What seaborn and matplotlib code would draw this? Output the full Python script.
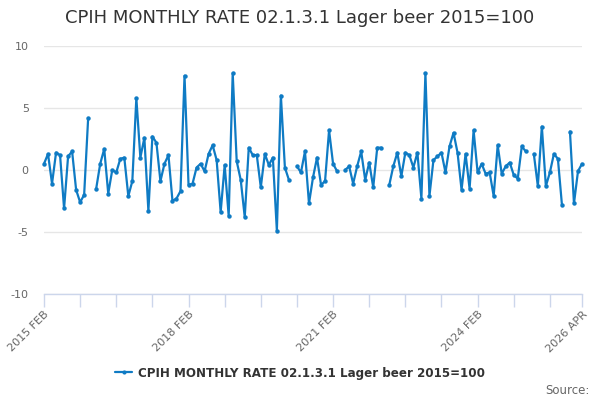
import numpy as np
import pandas as pd
import matplotlib
matplotlib.use("Agg")
import matplotlib.pyplot as plt
import seaborn as sns
from matplotlib.lines import Line2D

# monthly rate, Feb 2015 .. Apr 2026 (NaN = no value published)
nan = np.nan
rate = [
    0.5, 1.3, -1.1, 1.4, 1.2, -3.1, 1.1, 1.5, -1.6, -2.6, -2.0, 4.2,
    nan, -1.5, 0.5, 1.7, -1.9, 0.0, -0.2, 0.9, 1.0, -2.1, -0.9, 5.8,
    1.0, 2.6, -3.3, 2.7, 2.2, -0.9, 0.5, 1.2, -2.5, -2.3, -1.7, 7.6,
    -1.2, -1.1, 0.2, 0.5, -0.1, 1.3, 2.0, 0.8, -3.4, 0.4, -3.7, 7.8,
    0.7, -0.8, -3.8, 1.8, 1.2, 1.2, -1.4, 1.3, 0.4, 1.0, -4.9, 6.0,
    0.2, -0.8, nan, 0.3, -0.2, 1.5, -2.7, -0.6, 1.0, -1.2, -0.9, 3.2,
    0.5, -0.1, nan, 0.0, 0.3, -1.1, 0.3, 1.5, -0.8, 0.6, -1.4, 1.8,
    1.8, nan, -1.2, 0.3, 1.4, -0.5, 1.4, 1.2, 0.2, 1.4, -2.3, 7.8,
    -2.1, 0.8, 1.1, 1.4, -0.2, 1.9, 3.0, 1.4, -1.6, 1.3, -1.5, 3.2,
    -0.2, 0.5, -0.3, -0.2, -2.1, 2.0, -0.3, 0.3, 0.6, -0.4, -0.7, 1.9,
    1.5, nan, 1.3, -1.3, 3.5, -1.3, -0.2, 1.3, 0.9, -2.8, nan, 3.1,
    -2.7, -0.1, 0.5,
]
months = pd.date_range("2015-02-01", periods=len(rate), freq="MS")
labelled_months = ["2015-02", "2018-02", "2021-02", "2024-02", "2026-04"]
series_name = "CPIH MONTHLY RATE 02.1.3.1 Lager beer 2015=100"
title = "CPIH MONTHLY RATE 02.1.3.1 Lager beer 2015=100"

df = pd.DataFrame({"month": months, "rate": rate})
df["idx"] = np.arange(len(df))
# segment id so the line breaks at missing months
df["segment"] = df["rate"].isna().cumsum()
df = df.dropna()

blue = "#0f7bc4"
sns.set_theme(style="white")
plt.rcParams["font.family"] = ["DejaVu Sans"]

fig = plt.figure(figsize=(6, 4), dpi=100)
ax = fig.add_axes([44 / 600, 1 - 294 / 400, 538 / 600, 248 / 400])

for seg, part in df.groupby("segment"):
    sns.lineplot(data=part, x="idx", y="rate", ax=ax, color=blue, linewidth=1.6,
                 marker="o", markersize=3.2, markeredgewidth=0, clip_on=False)

ax.set_xlim(0, len(rate) - 1)
ax.set_ylim(-10, 10)
ax.set_yticks([-10, -5, 0, 5, 10])
ax.set_yticklabels(["-10", "-5", "0", "5", "10"], color="#666666", fontsize=8)
ax.yaxis.grid(True, color="#e6e6e6", linewidth=1)
ax.tick_params(axis="y", length=0, pad=11)

# ticks every 9 months plus the last month, labels on a few of them
last = len(rate) - 1
tick_pos = list(range(0, last, 9)) + [last]
month_str = months.strftime("%Y-%m")
tick_lab = []
for p in tick_pos:
    if month_str[p] in labelled_months:
        tick_lab.append(months[p].strftime("%Y %b").upper())
    else:
        tick_lab.append("")
ax.set_xticks(tick_pos)
ax.set_xticklabels(tick_lab, rotation=45, ha="right", rotation_mode="anchor",
                   color="#666666", fontsize=8)
ax.tick_params(axis="x", bottom=True, length=9, width=1, color="#ccd6eb", pad=2,
               direction="out")
ax.set_xlabel("")
ax.set_ylabel("")

for s in ["top", "right", "left"]:
    ax.spines[s].set_visible(False)
ax.spines["bottom"].set_color("#ccd6eb")
ax.spines["bottom"].set_linewidth(1)

fig.text(0.5, 1 - 18 / 400, title, ha="center", va="center", fontsize=13, color="#333333")

handle = Line2D([], [], color=blue, linewidth=1.6, marker="o", markersize=3, markeredgewidth=0)
fig.legend([handle], [series_name], loc="center", bbox_to_anchor=(0.5, 1 - 373 / 400),
           frameon=False, prop={"weight": "bold", "size": 8.6}, labelcolor="#333333",
           handlelength=1.5, handletextpad=0.5)

fig.text(590 / 600, 1 - 390 / 400, "Source:", ha="right", va="center", fontsize=8.5, color="#666666")

fig.savefig("out.png", dpi=100)
